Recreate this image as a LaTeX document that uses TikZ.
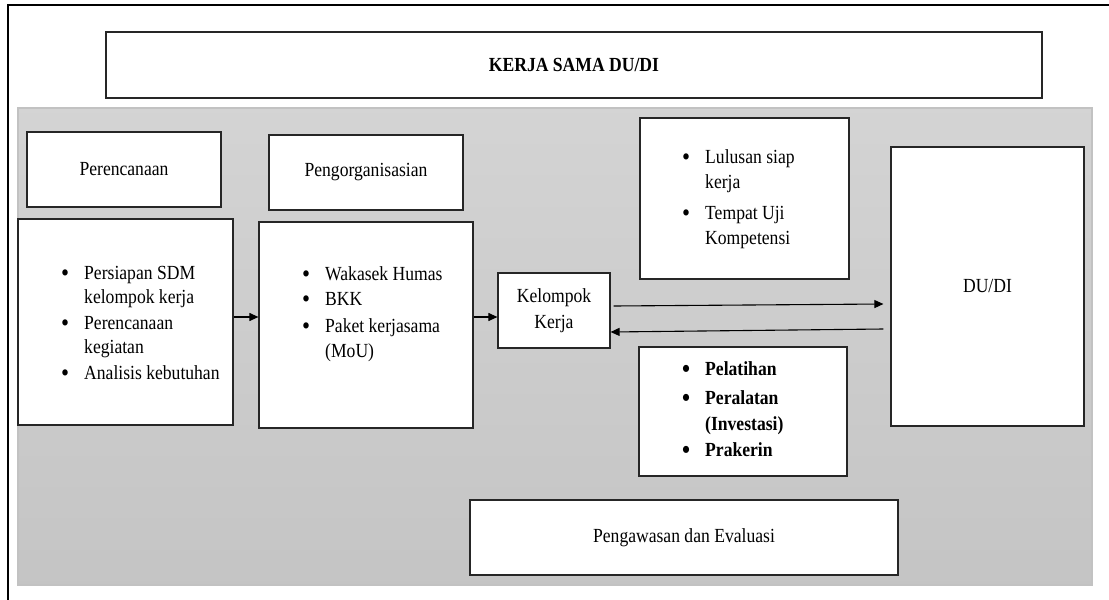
\documentclass[tikz,border=0pt]{standalone}
\usepackage{fontspec}
\setmainfont{Liberation Serif}[FakeStretch=0.88]
\usetikzlibrary{arrows.meta}
% bullet item and its continuation line
\newcommand\bul[1]{\makebox[23pt][l]{\raisebox{-2pt}{\fontsize{26}{20}\selectfont\textbullet}}#1}
\newcommand\cont[1]{\hspace*{23pt}#1}
\begin{document}
\begin{tikzpicture}[x=1pt,y=-1pt,
  box/.style={draw=black!85, line width=1.2pt, fill=white, rectangle, inner sep=0pt,
              align=center, font=\fontsize{20}{26}\selectfont},
  % lists are placed by the baseline of their last line
  list/.style={inner sep=0pt, anchor=base west, align=left},
  arr/.style={line width=1.1pt, -{Triangle[length=9pt,width=8pt]}}]
\useasboundingbox (0,0) rectangle (1109,600);

% outer frame (top and left edges)
\draw[line width=2.5pt] (8,600) -- (8,5) -- (1109,5);

% heading
\node[box, minimum width=936pt, minimum height=66pt, font=\fontsize{20}{24}\selectfont\bfseries]
  (title) at (574,65) {KERJA SAMA DU/DI};

% grey panel holding the process
\node[draw=black!24, line width=1.2pt, top color=black!17, bottom color=black!23,
      minimum width=1074pt, minimum height=477pt, inner sep=0pt] (panel) at (555,346.5) {};

% planning
\node[box, minimum width=194pt, minimum height=75pt] (plan) at (124,169.5) {Perencanaan};
\node[box, minimum width=215pt, minimum height=206pt] (planbox) at (125.5,322) {};
\node[list, font=\fontsize{20}{24}\selectfont] (planlist) at (61,379)
  {\bul{Persiapan SDM}\\ \cont{kelompok kerja}\\[2pt]
   \bul{Perencanaan}\\ \cont{kegiatan}\\[2pt]
   \bul{Analisis kebutuhan}};

% organising
\node[box, minimum width=194pt, minimum height=75pt] (org) at (366,172.5) {Pengorganisasian};
\node[box, minimum width=214pt, minimum height=206pt] (orgbox) at (366,325) {};
\node[list, font=\fontsize{20}{25}\selectfont] (orglist) at (302,357)
  {\bul{Wakasek Humas}\\ \bul{BKK}\\[2pt]
   \bul{Paket kerjasama}\\ \cont{(MoU)}};

% working group
\node[box, minimum width=112pt, minimum height=75pt] (kk) at (554,310.5) {Kelompok\\Kerja};

% outputs
\node[box, minimum width=209pt, minimum height=161pt] (outbox) at (744.5,198.5) {};
\node[list, font=\fontsize{20}{25}\selectfont] (outlist) at (682,244)
  {\bul{Lulusan siap}\\ \cont{kerja}\\[6pt]
   \bul{Tempat Uji}\\ \cont{Kompetensi}};

% inputs from industry
\node[box, minimum width=208pt, minimum height=129pt] (inbox) at (743,411.5) {};
\node[list, font=\fontsize{20}{26}\selectfont\bfseries] (inlist) at (682,456)
  {\bul{Pelatihan}\\[3pt] \bul{Peralatan}\\ \cont{(Investasi)}\\ \bul{Prakerin}};

% industry partner
\node[box, minimum width=193pt, minimum height=279pt] (dudi) at (987.5,286.5) {DU/DI};

% supervision
\node[box, minimum width=428pt, minimum height=75pt] (eval) at (684,537.5) {Pengawasan dan Evaluasi};

% connectors
\draw[arr] ([yshift=5pt]planbox.east) -- ([yshift=5pt]planbox.east -| orgbox.west);
\draw[arr] ([yshift=8pt]orgbox.east) -- ([yshift=8pt]orgbox.east -| kk.west);
\draw[arr] ([xshift=3pt,yshift=4.5pt]kk.east) -- ([xshift=-7pt,yshift=-17.5pt]dudi.west);
\draw[arr] ([xshift=-7pt,yshift=-42.5pt]dudi.west) -- ([yshift=-21.5pt]kk.east);
\end{tikzpicture}
\end{document}
